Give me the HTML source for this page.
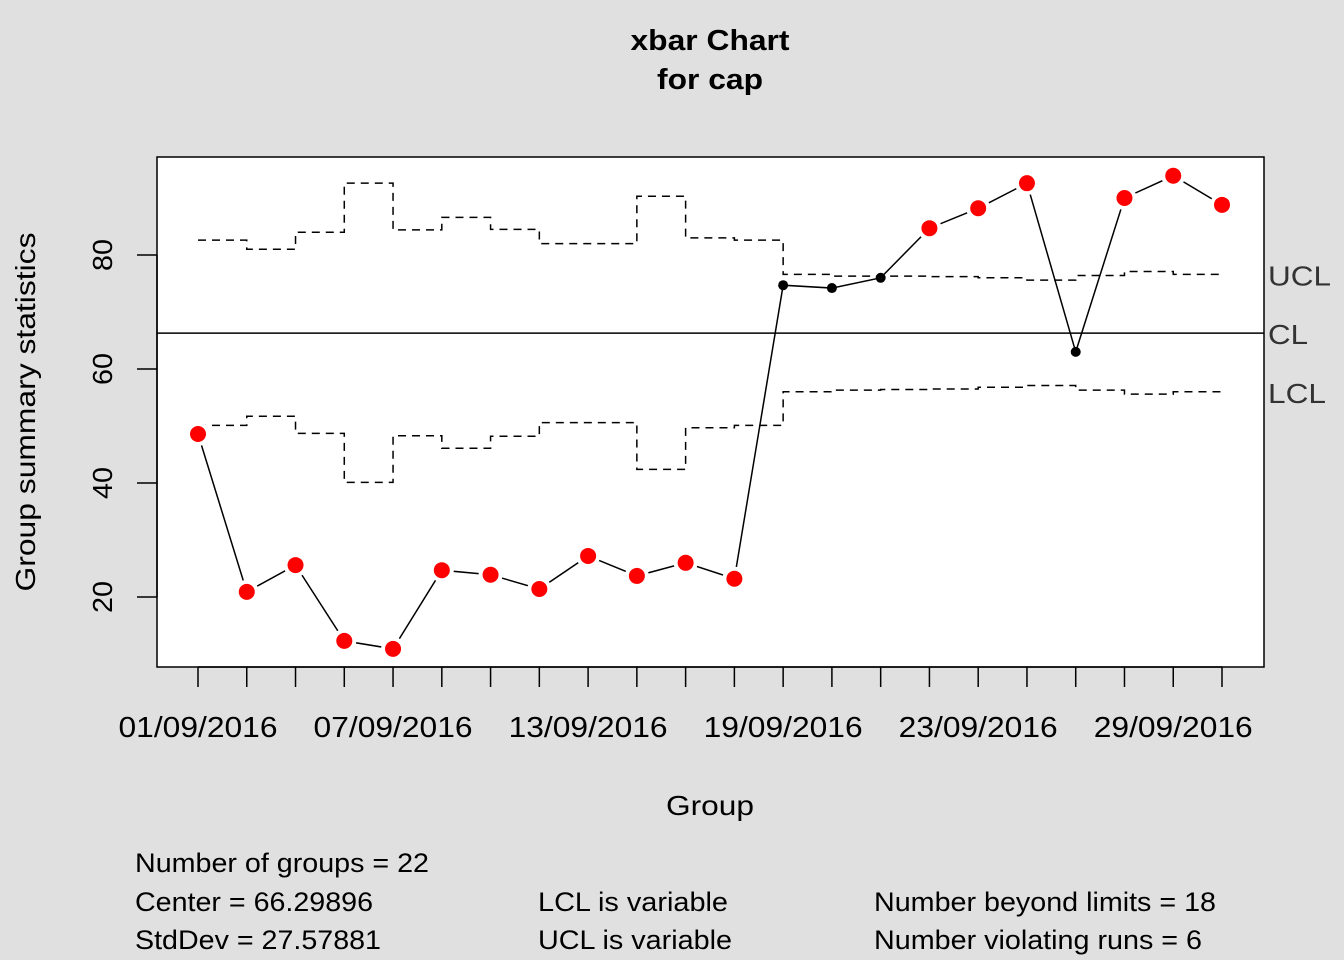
<!DOCTYPE html>
<html><head><meta charset="utf-8"><style>
html,body{margin:0;padding:0;background:#e0e0e0;}
svg{display:block;font-family:"Liberation Sans",Arial,sans-serif;}
</style></head><body>
<svg id="chart" width="1344" height="960" viewBox="0 0 1344 960">
<rect x="0" y="0" width="1344" height="960" fill="#e0e0e0"/>
<text x="710" y="50" text-anchor="middle" font-size="29" font-weight="bold" textLength="159" lengthAdjust="spacingAndGlyphs">xbar Chart</text>
<text x="710" y="89" text-anchor="middle" font-size="29" font-weight="bold" textLength="106" lengthAdjust="spacingAndGlyphs">for cap</text>
<rect x="157" y="157" width="1107" height="510" fill="#fff" stroke="#000" stroke-width="1.5"/>
<g id="marks"></g>
<text x="710" y="815" text-anchor="middle" font-size="28" textLength="88" lengthAdjust="spacingAndGlyphs">Group</text>
<text transform="translate(35,412) rotate(-90)" text-anchor="middle" font-size="28" textLength="359" lengthAdjust="spacingAndGlyphs">Group summary statistics</text>
<g font-size="27">
<text x="135" y="872" textLength="294" lengthAdjust="spacingAndGlyphs">Number of groups = 22</text>
<text x="135" y="911" textLength="238" lengthAdjust="spacingAndGlyphs">Center = 66.29896</text>
<text x="135" y="949" textLength="246" lengthAdjust="spacingAndGlyphs">StdDev = 27.57881</text>
<text x="538" y="911" textLength="190" lengthAdjust="spacingAndGlyphs">LCL is variable</text>
<text x="538" y="949" textLength="194" lengthAdjust="spacingAndGlyphs">UCL is variable</text>
<text x="874" y="911" textLength="342" lengthAdjust="spacingAndGlyphs">Number beyond limits = 18</text>
<text x="874" y="949" textLength="328" lengthAdjust="spacingAndGlyphs">Number violating runs = 6</text>
</g>
</svg>
<script>
const values = [48.6,20.9,25.6,12.3,10.9,24.7,23.9,21.4,27.2,23.7,26.0,23.2,74.7,74.2,76.0,84.7,88.2,92.6,63.0,90.0,93.9,88.8];
const violations = [1,1,1,1,1,1,1,1,1,1,1,1,0,0,0,1,1,1,0,1,1,1];
const ucl = [82.6,81.0,84.0,92.6,84.4,86.6,84.5,82.0,82.0,90.3,83.0,82.6,76.6,76.3,76.3,76.2,76.0,75.6,76.4,77.1,76.6];
const lcl = [50.1,51.7,48.7,40.1,48.3,46.1,48.2,50.6,50.6,42.4,49.7,50.1,56.0,56.3,56.4,56.5,56.8,57.1,56.3,55.6,56.0];
const center = 66.29896;
const yTicks = [20,40,60,80];
const xLabels = ["01/09/2016","07/09/2016","13/09/2016","19/09/2016","23/09/2016","29/09/2016"];
const xLabelIdx = [0,4,8,12,16,20];

const NS="http://www.w3.org/2000/svg";
const g=document.getElementById('marks');
const n=values.length;
const xs=i=>198+i*(1222-198)/(n-1);
const ys=v=>369-(v-60)*5.7;
function mk(t,a){const e=document.createElementNS(NS,t);for(const k in a)e.setAttribute(k,a[k]);g.appendChild(e);return e;}

let e=mk('line',{x1:157,x2:157,y1:ys(yTicks[0]),y2:ys(yTicks[yTicks.length-1]),stroke:'#000','stroke-width':1.5});


yTicks.forEach(t=>{
  let l=mk('line',{x1:137,x2:157,y1:ys(t),y2:ys(t),stroke:'#000','stroke-width':1.5});
  
  
  let tx=mk('text',{transform:`translate(112,${ys(t)}) rotate(-90)`,'text-anchor':'middle','font-size':28,textLength:32,lengthAdjust:'spacingAndGlyphs'});
  tx.textContent=t;
  
  
});
e=mk('line',{x1:xs(0),x2:xs(n-1),y1:667,y2:667,stroke:'#000','stroke-width':1.5});


for(let i=0;i<n;i++){
  let l=mk('line',{x1:xs(i),x2:xs(i),y1:667,y2:687,stroke:'#000','stroke-width':1.5});
  
  
}
xLabels.forEach((s,k)=>{
  let tx=mk('text',{x:xs(xLabelIdx[k]),y:737,'text-anchor':'middle','font-size':29,textLength:159,lengthAdjust:'spacingAndGlyphs'});
  tx.textContent=s;
  
  
});
function stepPath(arr){let d='';arr.forEach((v,i)=>{d+=(i?'L':'M')+xs(i)+','+ys(v)+'L'+xs(i+1)+','+ys(v);});return d;}
e=mk('path',{d:stepPath(ucl),fill:'none',stroke:'#000','stroke-width':1.5,'stroke-dasharray':'8,6'});


e=mk('path',{d:stepPath(lcl),fill:'none',stroke:'#000','stroke-width':1.5,'stroke-dasharray':'8,6'});


e=mk('line',{x1:157,x2:1264,y1:ys(center),y2:ys(center),stroke:'#000','stroke-width':1.5});


[["UCL",ucl[ucl.length-1],63],["CL",center,40],["LCL",lcl[lcl.length-1],58]].forEach(([s,v,w])=>{
  let tx=mk('text',{x:1268,y:ys(v)+11,'font-size':28,fill:'#333',textLength:w,lengthAdjust:'spacingAndGlyphs'});
  tx.textContent=s;
  
  
});
let d='';values.forEach((v,i)=>{d+=(i?'L':'M')+xs(i)+','+ys(v);});
e=mk('path',{d:d,fill:'none',stroke:'#000','stroke-width':1.5});


values.forEach((v,i)=>{
  const bad=violations[i];
  if(bad){mk('circle',{cx:xs(i),cy:ys(v),r:12,fill:'#fff'});}
  let c=mk('circle',{cx:xs(i),cy:ys(v),r:bad?8:5,fill:bad?'#ff0000':'#000'});
  
  
});
</script>
</body></html>
